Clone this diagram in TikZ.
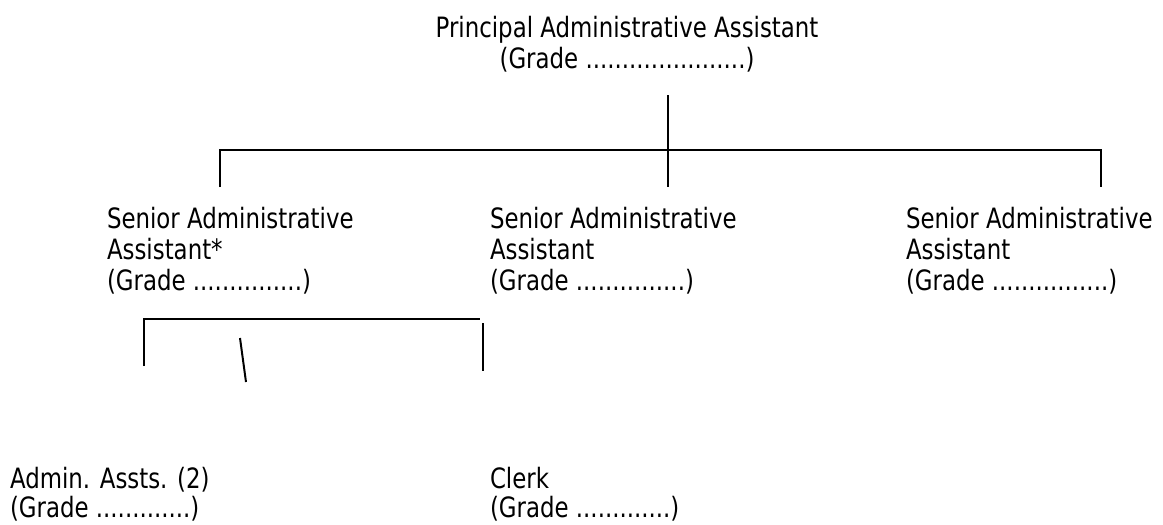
\documentclass[tikz,border=0pt]{standalone}
\usepackage{fontspec}
\setmainfont{DejaVu Sans}[FakeStretch=0.817]
\begin{document}
\begin{tikzpicture}[x=1pt,y=-1pt,
  conn/.style={line width=2pt},
  lbl/.style={inner sep=0pt, outer sep=0pt, align=left, anchor=base west, font=\fontsize{28}{31}\selectfont},
  lblb/.style={lbl, font=\fontsize{28}{29}\selectfont},
  lblc/.style={lbl, align=center, anchor=base}]
\useasboundingbox (0,0) rectangle (1163,525);
% texts (anchor = baseline of last line)
\node[lblc] (pa) at (627,68) {Principal Administrative Assistant\\(Grade ......................)};
\node[lbl] (s1) at (107,290) {Senior Administrative\\Assistant*\\(Grade ...............)};
\node[lbl] (s2) at (490,290) {Senior Administrative\\Assistant\\(Grade ...............)};
\node[lbl] (s3) at (906,290) {Senior Administrative\\Assistant\\(Grade ................)};
\node[lblb] (aa) at (10,517) {Admin. Assts. (2)\\(Grade .............)};
\node[lblb] (cl) at (490,517) {Clerk\\(Grade .............)};
% coordinates
\coordinate (ptop) at (668,95);
\coordinate (pbot) at (668,187);
\coordinate (bl) at (220,150);
\coordinate (br) at (1101,150);
\coordinate (blb) at (220,187);
\coordinate (brb) at (1101,187);
\coordinate (sl) at (144,366);
\coordinate (slt) at (144,319);
\coordinate (srt) at (480,319);
\coordinate (sr1) at (483,323);
\coordinate (sr2) at (483,371);
\coordinate (sm1) at (240,338);
\coordinate (sm2) at (246,382);
% connectors
\draw[conn] (ptop) -- (pbot);
\draw[conn] (blb) -- (bl) -- (br) -- (brb);
\draw[conn] (sl) -- (slt) -- (srt);
\draw[conn] (sr1) -- (sr2);
\draw[conn] (sm1) -- (sm2);
\end{tikzpicture}
\end{document}
